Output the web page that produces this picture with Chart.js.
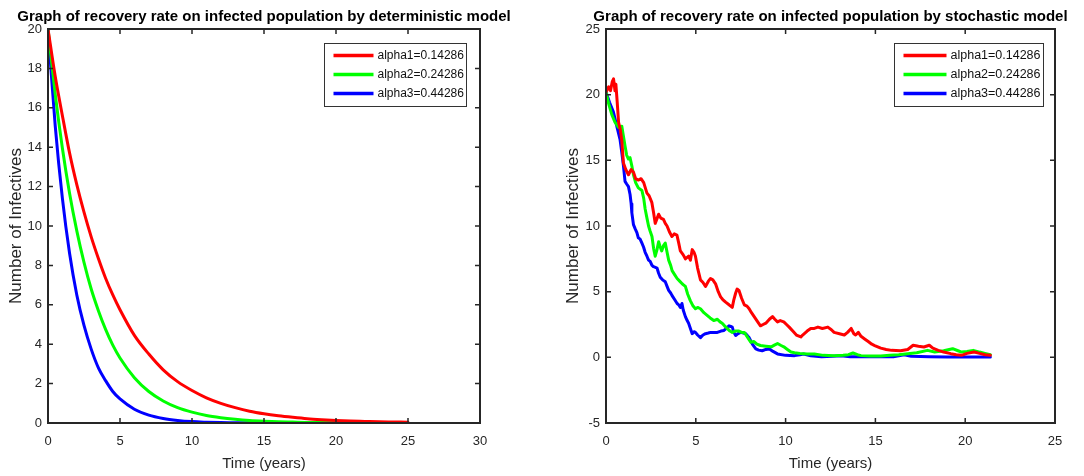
<!DOCTYPE html>
<html><head><meta charset="utf-8">
<script src="https://cdn.jsdelivr.net/npm/chart.js@4/dist/chart.umd.min.js"></script>
<style>
html,body{margin:0;padding:0;background:#fff;}
#w{position:relative;width:1084px;height:476px;background:#fff;}
canvas{position:absolute;top:0;}
</style></head><body>
<div id="w">
<canvas id="c1" width="542" height="476" style="left:0;width:542px;height:476px"></canvas>
<canvas id="c2" width="542" height="476" style="left:542px;width:542px;height:476px"></canvas>
</div>
<script>
// ---------- data ----------
const seriesLabels = ['alpha1=0.14286', 'alpha2=0.24286', 'alpha3=0.44286'];
const seriesColors = ['#ff0000', '#00ff00', '#0000ff'];

// deterministic model (time)
const detTime = [0,0.5,1,1.5,2,2.5,3,3.5,4,4.5,5,6,7,8,9,10,11,12,13,14,15,16,17,18,19,20,21,22,23,24,25];
const detAlpha1 = [20,17.6,15.6,13.7,12.1,10.7,9.45,8.35,7.35,6.5,5.75,4.45,3.5,2.7,2.1,1.65,1.28,1.0,0.78,0.6,0.47,0.37,0.29,0.22,0.17,0.13,0.1,0.08,0.06,0.05,0.04];
const detAlpha2 = [20,16.7,13.95,11.65,9.75,8.15,6.8,5.7,4.75,3.95,3.3,2.3,1.6,1.12,0.78,0.55,0.38,0.27,0.19,0.13,0.09,0.06,0.045,0.03,0.02,0.015,0.01,0.01,0.005,0.005,0.005];
const detAlpha3 = [20,15.1,11.4,8.6,6.5,4.95,3.75,2.8,2.15,1.6,1.22,0.7,0.4,0.23,0.13,0.07,0.04,0.02,0.01,0.01,0,0,0,0,0,0,0,0,0,0,0];

// stochastic model: [time, value] pairs
const stoAlpha1 = [[0,20.2],[0.15,20.6],[0.25,20.3],[0.35,21.0],[0.42,21.2],[0.5,20.3],[0.55,20.8],[0.62,19.5],[0.7,17.9],[0.8,17.3],[0.88,16.5],[0.97,14.8],[1.1,14.3],[1.25,13.9],[1.4,14.3],[1.53,14.1],[1.65,13.6],[1.8,13.5],[1.95,13.6],[2.1,13.3],[2.28,12.5],[2.4,12.3],[2.55,11.8],[2.65,11.0],[2.74,10.2],[2.85,10.6],[2.93,10.9],[3.05,10.6],[3.2,10.5],[3.3,10.2],[3.4,10.0],[3.55,9.5],[3.67,9.2],[3.8,9.4],[3.95,9.3],[4.05,8.7],[4.14,8.1],[4.3,7.8],[4.42,7.5],[4.6,7.7],[4.7,7.4],[4.8,8.2],[4.9,8.0],[4.98,7.7],[5.1,6.8],[5.26,5.9],[5.4,5.7],[5.54,5.4],[5.7,5.8],[5.82,6.0],[5.95,5.9],[6.1,5.6],[6.25,5.0],[6.38,4.6],[6.5,4.4],[6.66,4.2],[6.85,4.0],[7.03,3.8],[7.12,4.4],[7.22,4.9],[7.3,5.2],[7.4,5.1],[7.55,4.5],[7.7,4.0],[7.85,3.9],[7.97,3.7],[8.1,3.4],[8.25,3.1],[8.4,2.8],[8.6,2.4],[8.75,2.5],[8.9,2.6],[9.1,2.9],[9.27,3.1],[9.4,2.9],[9.55,2.7],[9.7,2.8],[9.9,2.7],[10.05,2.5],[10.2,2.3],[10.4,2.0],[10.6,1.7],[10.85,1.55],[10.95,1.7],[11.2,2.0],[11.4,2.2],[11.6,2.2],[11.8,2.3],[12.05,2.2],[12.35,2.3],[12.55,2.1],[12.7,1.9],[13.0,1.8],[13.27,1.7],[13.45,1.9],[13.65,2.2],[13.8,1.8],[13.9,1.7],[14.05,1.9],[14.2,1.6],[14.4,1.4],[14.6,1.2],[14.8,1.0],[14.96,0.9],[15.3,0.7],[15.6,0.6],[15.9,0.53],[16.4,0.5],[16.8,0.6],[17.1,0.92],[17.4,0.85],[17.7,0.79],[18.0,0.92],[18.2,0.7],[18.5,0.53],[18.8,0.4],[19.2,0.28],[19.5,0.2],[19.8,0.15],[20.1,0.3],[20.5,0.4],[20.8,0.3],[21.1,0.2],[21.4,0.15]];
const stoAlpha2 = [[0,20.2],[0.15,19.3],[0.32,18.5],[0.5,17.9],[0.7,17.5],[0.88,17.6],[0.95,17.0],[1.06,16.1],[1.15,15.4],[1.25,15.1],[1.34,15.2],[1.45,14.5],[1.53,13.9],[1.65,13.3],[1.8,12.9],[2.0,12.7],[2.1,12.1],[2.18,11.3],[2.28,10.6],[2.37,10.0],[2.46,9.6],[2.56,9.2],[2.65,8.3],[2.74,7.7],[2.84,8.2],[2.93,8.8],[3.02,8.4],[3.1,8.1],[3.2,8.5],[3.3,8.7],[3.4,8.0],[3.49,7.4],[3.6,7.0],[3.68,6.6],[3.82,6.3],[3.96,6.0],[4.1,5.8],[4.24,5.6],[4.33,5.5],[4.42,5.4],[4.55,4.8],[4.7,4.3],[4.85,3.9],[4.98,3.7],[5.1,3.8],[5.26,3.7],[5.45,3.4],[5.63,3.2],[5.8,3.0],[6.0,2.8],[6.2,2.9],[6.35,2.7],[6.47,2.6],[6.6,2.4],[6.75,2.2],[6.9,2.0],[7.03,1.9],[7.2,2.0],[7.4,2.0],[7.55,1.9],[7.7,1.9],[7.85,1.6],[8.06,1.15],[8.24,1.2],[8.4,1.0],[8.6,0.9],[8.9,0.85],[9.2,0.8],[9.4,0.95],[9.55,1.05],[9.75,0.9],[9.9,0.8],[10.1,0.6],[10.3,0.4],[10.5,0.35],[10.8,0.3],[11.2,0.25],[11.6,0.25],[12.1,0.15],[12.7,0.13],[13.2,0.15],[13.5,0.2],[13.75,0.33],[14.0,0.2],[14.2,0.13],[14.7,0.1],[15.3,0.1],[15.8,0.15],[16.3,0.2],[16.8,0.28],[17.3,0.35],[17.9,0.53],[18.3,0.4],[18.8,0.5],[19.3,0.66],[19.6,0.5],[19.8,0.4],[20.1,0.45],[20.45,0.53],[20.8,0.4],[21.1,0.3],[21.4,0.2]];
const stoAlpha3 = [[0,20.2],[0.2,19.4],[0.41,18.7],[0.6,17.6],[0.78,16.6],[0.88,15.6],[0.97,14.6],[1.06,13.4],[1.15,13.2],[1.25,13.0],[1.34,12.4],[1.4,11.7],[1.44,11.0],[1.53,10.1],[1.62,9.8],[1.72,9.5],[1.8,9.1],[1.9,9.0],[2.0,8.7],[2.09,8.4],[2.18,8.0],[2.28,7.7],[2.37,7.4],[2.46,7.3],[2.56,7.0],[2.65,6.9],[2.75,6.85],[2.84,6.8],[2.93,6.4],[3.02,6.1],[3.15,5.9],[3.3,5.75],[3.4,5.4],[3.49,5.1],[3.6,4.9],[3.68,4.7],[3.82,4.4],[3.96,4.1],[4.05,4.0],[4.14,3.8],[4.23,4.1],[4.3,3.6],[4.42,3.1],[4.52,2.8],[4.6,2.6],[4.7,2.2],[4.8,1.8],[4.9,1.95],[4.98,1.9],[5.1,1.7],[5.26,1.5],[5.4,1.7],[5.54,1.8],[5.7,1.85],[5.82,1.9],[6.0,1.9],[6.2,1.9],[6.4,2.0],[6.57,2.05],[6.7,2.2],[6.85,2.4],[6.95,2.35],[7.03,2.3],[7.12,1.9],[7.22,1.66],[7.35,1.8],[7.5,1.9],[7.65,1.85],[7.78,1.8],[7.9,1.6],[7.97,1.5],[8.15,1.0],[8.34,0.64],[8.5,0.55],[8.7,0.5],[8.9,0.6],[9.1,0.64],[9.3,0.45],[9.55,0.26],[10.0,0.15],[10.5,0.13],[10.8,0.2],[11.0,0.25],[11.4,0.12],[12.0,0.05],[12.6,0.08],[13.1,0.12],[13.6,0.05],[14.3,0.05],[15.3,0.05],[16.0,0.05],[16.6,0.2],[17.0,0.08],[18.0,0.05],[19.0,0.03],[20.0,0.03],[21.0,0.02],[21.4,0.02]];

// axes ticks
const detXTicks = [0,5,10,15,20,25,30];
const detYTicks = [0,2,4,6,8,10,12,14,16,18,20];
const stoXTicks = [0,5,10,15,20,25];
const stoYTicks = [-5,0,5,10,15,20,25];

const titles = ['Graph of recovery rate on infected population by deterministic model',
                'Graph of recovery rate on infected population by stochastic model'];
const xTitle = 'Time (years)';
const yTitle = 'Number of Infectives';

// ---------- rendering ----------
const FONT = '"Liberation Sans", Arial, Helvetica, sans-serif';
const AX = '#262626';

const framePlugin = {
  id: 'frame',
  afterDatasetsDraw(chart, args, opts) {
    const {ctx, chartArea: a, scales: {x, y}} = chart;
    ctx.save();
    ctx.strokeStyle = AX;
    ctx.lineWidth = 1.5;
    const tl = 5;
    x.ticks.forEach(t => {
      const px = x.getPixelForValue(t.value);
      ctx.beginPath(); ctx.moveTo(px, a.bottom); ctx.lineTo(px, a.bottom - tl);
      ctx.moveTo(px, a.top); ctx.lineTo(px, a.top + tl); ctx.stroke();
    });
    y.ticks.forEach(t => {
      const py = y.getPixelForValue(t.value);
      ctx.beginPath(); ctx.moveTo(a.left, py); ctx.lineTo(a.left + tl, py);
      ctx.moveTo(a.right, py); ctx.lineTo(a.right - tl, py); ctx.stroke();
    });
    ctx.lineWidth = 2;
    ctx.strokeRect(a.left, a.top, a.right - a.left, a.bottom - a.top);

    // title
    ctx.fillStyle = '#000';
    ctx.font = 'bold 15px ' + FONT;
    ctx.textAlign = 'center';
    ctx.textBaseline = 'alphabetic';
    ctx.fillText(opts.title, (a.left + a.right) / 2, 21);

    // legend
    const W = opts.legW, H = 63;
    const bx = Math.round(a.right - opts.legGap - W) + 0.5, by = Math.round(a.top + 14) + 0.5;
    ctx.fillStyle = '#fff';
    ctx.fillRect(bx, by, W, H);
    ctx.strokeStyle = '#333';
    ctx.lineWidth = 1;
    ctx.strokeRect(bx, by, W, H);
    ctx.font = opts.legFont + 'px ' + FONT;
    ctx.textAlign = 'left';
    ctx.textBaseline = 'middle';
    const rows = [12, 31, 50];
    chart.data.datasets.forEach((ds, i) => {
      const ry = by + rows[i];
      ctx.strokeStyle = ds.borderColor;
      ctx.lineWidth = 3.5;
      ctx.beginPath(); ctx.moveTo(bx + 9, ry); ctx.lineTo(bx + opts.lineEnd, ry); ctx.stroke();
      ctx.fillStyle = '#111';
      ctx.fillText(ds.label, bx + opts.lineEnd + 4, ry + 0.5);
    });
    ctx.restore();
  }
};

function makeScales(xMin, xMax, xTicks, yMin, yMax, yTicks, yWidth, yTitlePad) {
  const tickFont = {family: FONT, size: 13};
  return {
    x: {
      type: 'linear', min: xMin, max: xMax,
      afterBuildTicks: s => { s.ticks = xTicks.map(v => ({value: v})); },
      ticks: {font: tickFont, color: AX, padding: 11, maxRotation: 0, autoSkip: false},
      grid: {display: false, drawTicks: false},
      border: {display: false},
      title: {display: true, text: xTitle, color: AX, font: {family: FONT, size: 15}, padding: {top: 0, bottom: 3}},
      afterFit: s => { s.height = 53; }
    },
    y: {
      type: 'linear', min: yMin, max: yMax,
      afterBuildTicks: s => { s.ticks = yTicks.map(v => ({value: v})); },
      ticks: {font: tickFont, color: AX, padding: 6, autoSkip: false},
      grid: {display: false, drawTicks: false},
      border: {display: false},
      title: {display: true, text: yTitle, color: AX, font: {family: FONT, size: 17}, padding: {top: yTitlePad, bottom: yTitlePad}},
      afterFit: s => { s.width = yWidth; }
    }
  };
}

function ds(label, color, data, smooth) {
  return {
    label, data, borderColor: color, backgroundColor: color,
    borderWidth: 3, pointRadius: 0, fill: false,
    tension: 0, cubicInterpolationMode: smooth ? 'monotone' : 'default',
    borderJoinStyle: 'round', borderCapStyle: 'round'
  };
}

const detSets = [detAlpha1, detAlpha2, detAlpha3];
new Chart(document.getElementById('c1'), {
  type: 'line',
  data: {
    datasets: detSets.map((vals, i) =>
      ds(seriesLabels[i], seriesColors[i], detTime.map((t, k) => ({x: t, y: vals[k]})), true))
  },
  options: {
    responsive: false, animation: false,
    layout: {padding: {left: 0, right: 62, top: 29, bottom: 0}},
    plugins: {legend: {display: false}, tooltip: {enabled: false}, title: {display: false},
      frame: {title: titles[0], legW: 142, legGap: 14, legFont: 12, lineEnd: 49}},
    scales: makeScales(0, 30, detXTicks, 0, 20, detYTicks, 48, 6)
  },
  plugins: [framePlugin]
});

const stoSets = [stoAlpha1, stoAlpha2, stoAlpha3];
new Chart(document.getElementById('c2'), {
  type: 'line',
  data: {
    datasets: stoSets.map((pairs, i) =>
      ds(seriesLabels[i], seriesColors[i], pairs.map(p => ({x: p[0], y: p[1]})), false))
  },
  options: {
    responsive: false, animation: false,
    layout: {padding: {left: 0, right: 29, top: 29, bottom: 0}},
    plugins: {legend: {display: false}, tooltip: {enabled: false}, title: {display: false},
      frame: {title: titles[1], legW: 149, legGap: 12, legFont: 12.5, lineEnd: 52}},
    scales: makeScales(0, 25, stoXTicks, -5, 25, stoYTicks, 64, 21)
  },
  plugins: [framePlugin]
});
</script>
</body></html>
